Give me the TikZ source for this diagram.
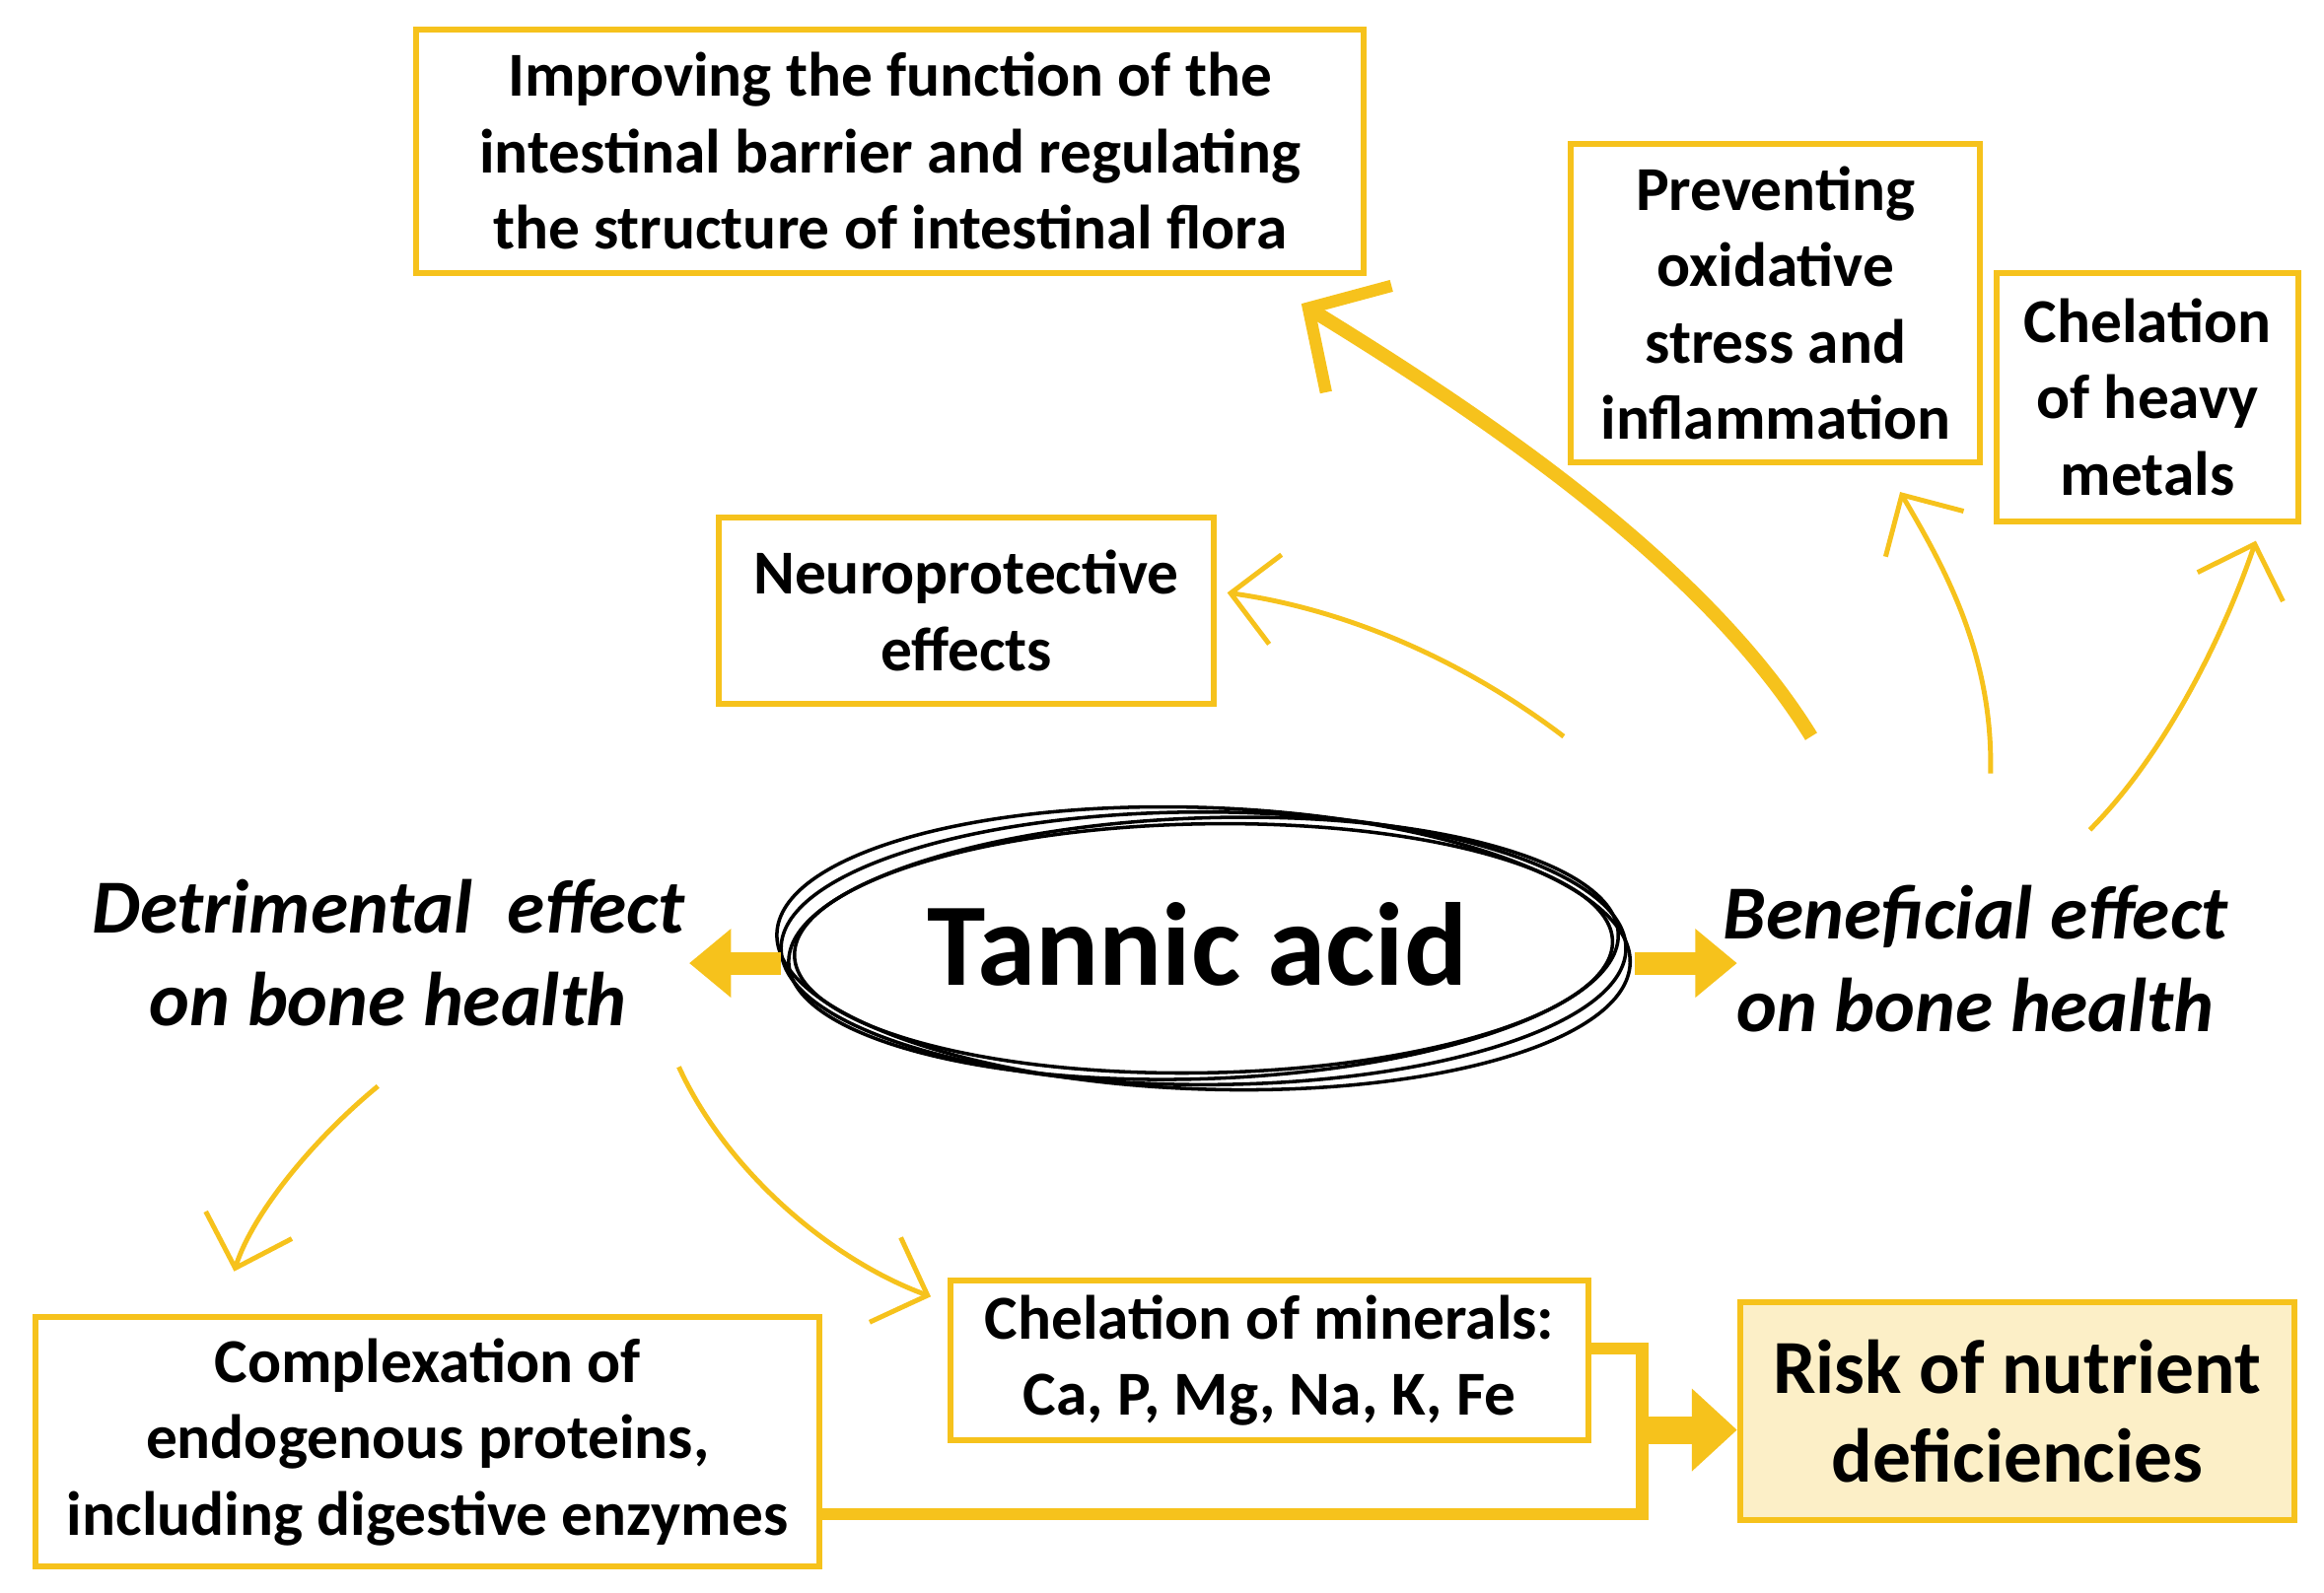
\documentclass[tikz,border=0pt]{standalone}
\usepackage{fontspec}
\setmainfont{Carlito}
\usetikzlibrary{arrows.meta,calc}
\definecolor{gold}{HTML}{F6C21C}
\definecolor{pale}{HTML}{FCEFC7}
\begin{document}
\begin{tikzpicture}[x=0.03cm,y=-0.03cm,
 box/.style={draw=gold,line width=3.4pt,align=center,font=\fontsize{36}{44}\selectfont\bfseries,inner sep=0pt,anchor=north west},
 cur/.style={draw=gold,line width=2.8pt,-{Straight Barb[length=26pt,width=52pt,line width=2.8pt]}},
 side/.style={align=center,font=\fontsize{44}{53}\selectfont\bfseries\itshape}]
\useasboundingbox (0,0) rectangle (1568,1075);
\node[box,minimum width=639*0.03cm,minimum height=164*0.03cm] (imp) at (279,18) {Improving the function of the\\intestinal barrier and regulating\\the structure of intestinal flora};
\node[box,minimum width=276*0.03cm,minimum height=215*0.03cm] (pre) at (1058,95) {Preventing\\oxidative\\stress and\\inflammation};
\node[box,minimum width=204*0.03cm,minimum height=168*0.03cm] (hea) at (1345,182) {Chelation\\of heavy\\metals};
\node[box,minimum width=334*0.03cm,minimum height=126*0.03cm] (neu) at (483,347) {Neuroprotective\\effects};
\node[box,minimum width=431*0.03cm,minimum height=108*0.03cm] (min) at (639,862) {Chelation of minerals:\\Ca, P, Mg, Na, K, Fe};
\node[box,minimum width=529*0.03cm,minimum height=168*0.03cm] (com) at (22,887) {Complexation of\\endogenous proteins,\\including digestive enzymes};
\node[box,fill=pale,minimum width=374*0.03cm,minimum height=147*0.03cm,font=\fontsize{44}{51}\selectfont\bfseries] (risk) at (1172,877) {Risk of nutrient\\deficiencies};
% ellipse
\foreach \r/\a/\b in {0/285/92,2/280/88,-2/288/95,1/276/84}
  \draw[line width=2pt] (812,640) ellipse[x radius=\a*0.03cm,y radius=\b*0.03cm,rotate=\r];
\node[font=\fontsize{68}{76}\selectfont\bfseries] (ta) at (808,637) {Tannic acid};
\node[side] (det) at (262,643) {Detrimental\ \ effect\\on bone health};
\node[side] (ben) at (1333,647) {Beneficial effect\\on bone health};
% block arrows
\coordinate (lt) at (527,650); \coordinate (rt) at (1103,650);
\draw[gold,line width=13pt,-{Triangle[length=24pt,width=38pt]}] (lt) -- (465,650);
\draw[gold,line width=13pt,-{Triangle[length=24pt,width=38pt]}] (rt) -- (1172,650);
% curved arrows
\coordinate (s1) at (1222,497); \coordinate (s2) at (1055,497);
\coordinate (s3) at (1343,522); \coordinate (s4) at (1410,560);
\coordinate (s5) at (255,733); \coordinate (s6) at (458,720);
\draw[cur,line width=8pt,-{Straight Barb[length=34pt,width=72pt,line width=7pt]}] (s1) .. controls (1150,380) and (1000,280) .. (878,205);
\draw[cur] (s2) .. controls (980,440) and (900,410) .. (828,400);
\draw[cur] (s3) .. controls (1345,440) and (1310,380) .. (1282,332);
\draw[cur] (s4) .. controls (1460,510) and (1500,430) .. (1522,365);
\draw[cur] (s5) .. controls (210,770) and (170,820) .. (158,858);
\draw[cur] (s6) .. controls (490,790) and (560,850) .. (628,875);
% connectors
\coordinate (j) at (1108,965);
\draw[gold,line width=7pt] (min.east|-0,910) -| (1108,1022) -- (com.east|-0,1022);
\draw[gold,line width=16pt,-{Triangle[length=26pt,width=46pt]}] (j) -- (risk.west|-j);
\end{tikzpicture}
\end{document}
